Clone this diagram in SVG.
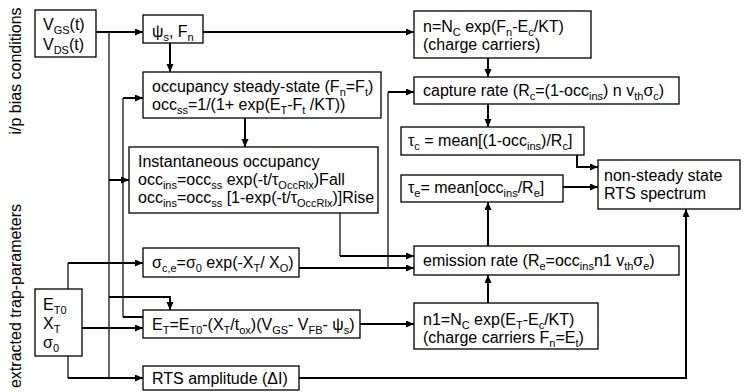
<svg xmlns="http://www.w3.org/2000/svg" width="754" height="392" viewBox="0 0 754 392">
<defs>
<style>
.box{fill:#fff;stroke:#000;stroke-width:1.3}
text{font-family:"Liberation Sans",Arial,sans-serif;font-size:16px;fill:#000}
.s{font-size:11px}
.c{fill:none;stroke:#000;stroke-width:2}
.thin{fill:none;stroke:#000;stroke-width:1.2}
</style>
<marker id="ah" markerUnits="userSpaceOnUse" markerWidth="9" markerHeight="8" refX="8" refY="3.5" orient="auto">
<path d="M0,0 L8,3.5 L0,7 z" fill="#000"/>
</marker>
</defs>
<rect width="754" height="392" fill="#fff"/>

<text transform="translate(21,71) rotate(-90)" text-anchor="middle">i/p bias conditions</text>
<text transform="translate(21,296) rotate(-90)" text-anchor="middle">extracted trap-parameters</text>

<g id="connectors">
<path class="thin" d="M109,32 V378"/>
<path class="thin" d="M123,317 V98"/>
<path class="thin" d="M388,268 V92"/>
<path class="thin" d="M340,213 V256"/>
<path class="thin" d="M68,289 V263"/>
<path class="thin" d="M68,356 V378"/>
<path class="c" d="M96,32 H143" marker-end="url(#ah)"/>
<path class="c" d="M203,32 H414" marker-end="url(#ah)"/>
<path class="c" d="M109,180 H129" marker-end="url(#ah)"/>
<path class="c" d="M109,297 H170 V310" marker-end="url(#ah)"/>
<path class="c" d="M143,317 H123"/>
<path class="c" d="M123,98 H143" marker-end="url(#ah)"/>
<path class="c" d="M170,43 V72" marker-end="url(#ah)"/>
<path class="c" d="M245,118 V147" marker-end="url(#ah)"/>
<path class="c" d="M68,263 H143" marker-end="url(#ah)"/>
<path class="c" d="M82,328 H143" marker-end="url(#ah)"/>
<path class="c" d="M68,378 H143" marker-end="url(#ah)"/>
<path class="c" d="M299,378 H686 V209" marker-end="url(#ah)"/>
<path class="c" d="M340,256 H414" marker-end="url(#ah)"/>
<path class="c" d="M299,268 H414" marker-end="url(#ah)"/>
<path class="c" d="M388,92 H414" marker-end="url(#ah)"/>
<path class="c" d="M488,58 V77" marker-end="url(#ah)"/>
<path class="c" d="M488,104 V127" marker-end="url(#ah)"/>
<path class="c" d="M488,246 V202" marker-end="url(#ah)"/>
<path class="c" d="M488,303 V275" marker-end="url(#ah)"/>
<path class="c" d="M360,324 H414" marker-end="url(#ah)"/>
<path class="c" d="M577,155 V167 H598" marker-end="url(#ah)"/>
<path class="c" d="M563,187 H598" marker-end="url(#ah)"/>
</g>

<g id="bias">
<rect class="box" x="35" y="10" width="61" height="47"/>
<text x="43" y="30">V<tspan class="s" dy="4">GS</tspan><tspan dy="-4">(t)</tspan></text>
<text x="43" y="50">V<tspan class="s" dy="4">DS</tspan><tspan dy="-4">(t)</tspan></text>
</g>

<g id="psi">
<rect class="box" x="143" y="15" width="60" height="28"/>
<text x="152" y="37">ψ<tspan class="s" dy="4">s</tspan><tspan dy="-4">, F</tspan><tspan class="s" dy="4">n</tspan></text>
</g>

<g id="occss">
<rect class="box" x="143" y="72" width="238" height="46"/>
<text x="152" y="92">occupancy steady-state (F<tspan class="s" dy="4">n</tspan><tspan dy="-4">=F</tspan><tspan class="s" dy="4">t</tspan><tspan dy="-4">)</tspan></text>
<text x="152" y="110">occ<tspan class="s" dy="4">ss</tspan><tspan dy="-4">=1/(1+ exp(E</tspan><tspan class="s" dy="4">T</tspan><tspan dy="-4">-F</tspan><tspan class="s" dy="4">t</tspan><tspan dy="-4"> /KT))</tspan></text>
</g>

<g id="ncarriers">
<rect class="box" x="414" y="11" width="177" height="47"/>
<text x="423" y="32">n=N<tspan class="s" dy="4">C</tspan><tspan dy="-4"> exp(F</tspan><tspan class="s" dy="4">n</tspan><tspan dy="-4">-E</tspan><tspan class="s" dy="4">c</tspan><tspan dy="-4">/KT)</tspan></text>
<text x="423" y="50">(charge carriers)</text>
</g>

<g id="capture">
<rect class="box" x="414" y="77" width="265" height="27"/>
<text x="423" y="96">capture rate (R<tspan class="s" dy="4">c</tspan><tspan dy="-4">=(1-occ</tspan><tspan class="s" dy="4">ins</tspan><tspan dy="-4">) n v</tspan><tspan class="s" dy="4">th</tspan><tspan dy="-4">σ</tspan><tspan class="s" dy="4">c</tspan><tspan dy="-4">)</tspan></text>
</g>

<g id="tauc">
<rect class="box" x="401" y="127" width="183" height="28"/>
<text x="408" y="146">τ<tspan class="s" dy="4">c</tspan><tspan dy="-4"> = mean[(1-occ</tspan><tspan class="s" dy="4">ins</tspan><tspan dy="-4">)/R</tspan><tspan class="s" dy="4">c</tspan><tspan dy="-4">]</tspan></text>
</g>

<g id="taue">
<rect class="box" x="401" y="175" width="162" height="27"/>
<text x="408" y="193">τ<tspan class="s" dy="4">e</tspan><tspan dy="-4">= mean[occ</tspan><tspan class="s" dy="4">ins</tspan><tspan dy="-4">/R</tspan><tspan class="s" dy="4">e</tspan><tspan dy="-4">]</tspan></text>
</g>

<g id="spectrum">
<rect class="box" x="598" y="160" width="142" height="49"/>
<text x="604" y="181">non-steady state</text>
<text x="604" y="199">RTS spectrum</text>
</g>

<g id="occins">
<rect class="box" x="129" y="147" width="249" height="66"/>
<text x="138" y="167">Instantaneous occupancy</text>
<text x="138" y="185">occ<tspan class="s" dy="4">ins</tspan><tspan dy="-4">=occ</tspan><tspan class="s" dy="4">ss</tspan><tspan dy="-4"> exp(-t/τ</tspan><tspan class="s" dy="4">OccRlx</tspan><tspan dy="-4">)Fall</tspan></text>
<text x="138" y="203">occ<tspan class="s" dy="4">ins</tspan><tspan dy="-4">=occ</tspan><tspan class="s" dy="4">ss</tspan><tspan dy="-4"> [1-exp(-t/τ</tspan><tspan class="s" dy="4">OccRlx</tspan><tspan dy="-4">)]Rise</tspan></text>
</g>

<g id="sigma">
<rect class="box" x="143" y="248" width="156" height="29"/>
<text x="152" y="268">σ<tspan class="s" dy="4">c,e</tspan><tspan dy="-4">=σ</tspan><tspan class="s" dy="4">0</tspan><tspan dy="-4"> exp(-X</tspan><tspan class="s" dy="4">T</tspan><tspan dy="-4">/ X</tspan><tspan class="s" dy="4">O</tspan><tspan dy="-4">)</tspan></text>
</g>

<g id="emission">
<rect class="box" x="414" y="246" width="265" height="29"/>
<text x="423" y="266">emission rate (R<tspan class="s" dy="4">e</tspan><tspan dy="-4">=occ</tspan><tspan class="s" dy="4">ins</tspan><tspan dy="-4">n1 v</tspan><tspan class="s" dy="4">th</tspan><tspan dy="-4">σ</tspan><tspan class="s" dy="4">e</tspan><tspan dy="-4">)</tspan></text>
</g>

<g id="et">
<rect class="box" x="143" y="310" width="217" height="28"/>
<text x="152" y="330">E<tspan class="s" dy="4">T</tspan><tspan dy="-4">=E</tspan><tspan class="s" dy="4">T0</tspan><tspan dy="-4">-(X</tspan><tspan class="s" dy="4">T</tspan><tspan dy="-4">/t</tspan><tspan class="s" dy="4">ox</tspan><tspan dy="-4">)(V</tspan><tspan class="s" dy="4">GS</tspan><tspan dy="-4">- V</tspan><tspan class="s" dy="4">FB</tspan><tspan dy="-4">- ψ</tspan><tspan class="s" dy="4">s</tspan><tspan dy="-4">)</tspan></text>
</g>

<g id="n1">
<rect class="box" x="414" y="303" width="184" height="46"/>
<text x="423" y="325">n1=N<tspan class="s" dy="4">C</tspan><tspan dy="-4"> exp(E</tspan><tspan class="s" dy="4">T</tspan><tspan dy="-4">-E</tspan><tspan class="s" dy="4">c</tspan><tspan dy="-4">/KT)</tspan></text>
<text x="423" y="343">(charge carriers F<tspan class="s" dy="4">n</tspan><tspan dy="-4">=E</tspan><tspan class="s" dy="4">t</tspan><tspan dy="-4">)</tspan></text>
</g>

<g id="trap">
<rect class="box" x="35" y="289" width="47" height="67"/>
<text x="43" y="310">E<tspan class="s" dy="4">T0</tspan></text>
<text x="43" y="329">X<tspan class="s" dy="4">T</tspan></text>
<text x="43" y="348">σ<tspan class="s" dy="4">0</tspan></text>
</g>

<g id="rts">
<rect class="box" x="143" y="366" width="156" height="24"/>
<text x="152" y="384">RTS amplitude (ΔI)</text>
</g>
</svg>
